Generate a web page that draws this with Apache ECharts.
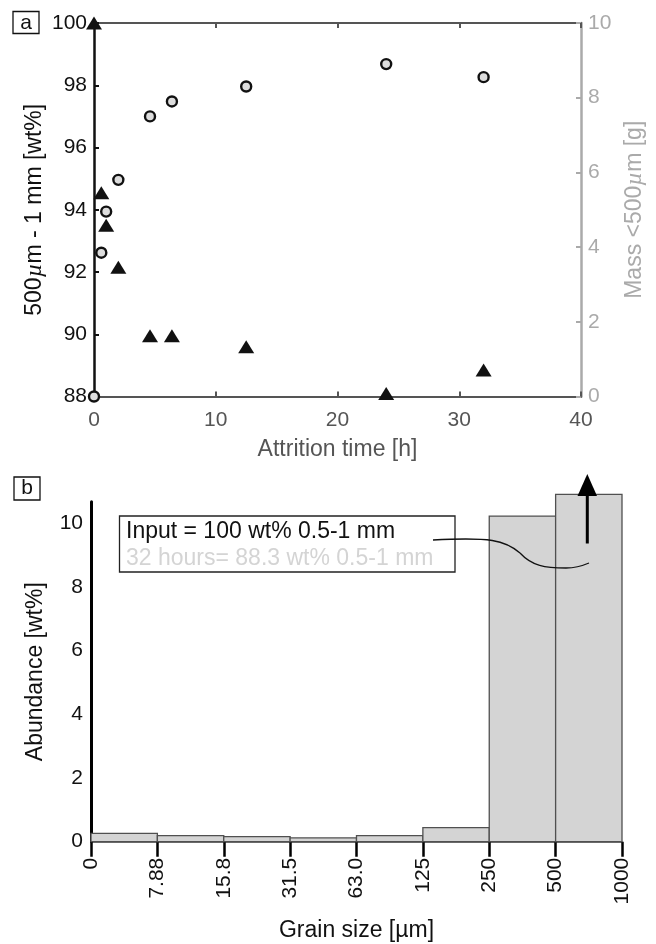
<!DOCTYPE html>
<html>
<head>
<meta charset="utf-8">
<script src="https://cdn.jsdelivr.net/npm/echarts@6/dist/echarts.min.js"></script>
<style>
  html, body { margin: 0; padding: 0; background: #fff; }
  #chart { width: 656px; height: 944px; }
</style>
</head>
<body>
<div id="chart"></div>
<script>
// panel a: attrition experiment
const hours = [0, 0.6, 1, 2, 4.6, 6.4, 12.5, 24, 32];
const coarseWt = [100, 94.55, 93.5, 92.15, 89.95, 89.95, 89.6, 88.1, 88.85]; // 500um - 1 mm [wt%]
const fineMass = [0, 3.85, 4.95, 5.8, 7.5, 7.9, 8.3, 8.9, 8.55];            // mass <500um [g]

// panel b: grain size distribution after 32 h
const binEdges = ['0', '7.88', '15.8', '31.5', '63.0', '125', '250', '500', '1000'];
const abundance = [0.26, 0.19, 0.16, 0.12, 0.19, 0.44, 10.22, 10.9];
const legendLines = ['Input = 100 wt% 0.5-1 mm', '32 hours= 88.3 wt% 0.5-1 mm'];

const FONT = 'Liberation Sans';
const chart = echarts.init(document.getElementById('chart'), null, { renderer: 'canvas' });

const muRich = { mu: { fontFamily: 'Liberation Serif', fontStyle: 'italic', fontSize: 24 } };

// connector curve from legend to the 500-1000 bar, as cubic pieces
const curveParts = [
  [433, 540, 490, 537, 505, 540, 520, 553],
  [520, 553, 532, 566, 545, 568, 566, 568],
  [566, 568, 575, 568, 582, 566, 589, 563]
];

const option = {
  animation: false,
  textStyle: { fontFamily: FONT },
  grid: [
    { left: 94, top: 23, width: 487, height: 373.5 },
    { left: 91, top: 501.7, width: 531, height: 340 }
  ],
  xAxis: [
    {
      gridIndex: 0, type: 'value', min: 0, max: 40, interval: 10,
      name: 'Attrition time [h]', nameLocation: 'middle', nameGap: 42,
      nameTextStyle: { fontSize: 23, color: '#555' },
      axisLine: { onZero: false, lineStyle: { color: '#555', width: 2 } },
      axisTick: { inside: true, length: 5, lineStyle: { color: '#555', width: 2 } },
      axisLabel: { fontSize: 21, color: '#555', margin: 13 },
      splitLine: { show: false }
    },
    {
      gridIndex: 0, type: 'value', position: 'top', min: 0, max: 40, interval: 10,
      axisLine: { onZero: false, lineStyle: { color: '#555', width: 2 } },
      axisTick: { inside: true, length: 5, lineStyle: { color: '#555', width: 2 } },
      axisLabel: { show: false },
      splitLine: { show: false }
    },
    {
      gridIndex: 1, type: 'value', min: 0, max: 8, interval: 1,
      name: 'Grain size [µm]', nameLocation: 'middle', nameGap: 77,
      nameTextStyle: { fontSize: 23, color: '#111' },
      axisLine: { onZero: false, lineStyle: { color: '#444', width: 1.5 } },
      axisTick: { length: 15, lineStyle: { color: '#000', width: 2.5 } },
      axisLabel: {
        fontSize: 21, color: '#111', rotate: 90, margin: 16,
        formatter: v => binEdges[v]
      },
      splitLine: { show: false }
    }
  ],
  yAxis: [
    {
      gridIndex: 0, type: 'value', position: 'left', min: 88, max: 100, interval: 2,
      name: '500{mu|µ}m - 1 mm [wt%]', nameLocation: 'middle', nameGap: 47, nameRotate: 90,
      nameMoveOverlap: false,
      nameTextStyle: { fontSize: 23, color: '#111', rich: muRich },
      axisLine: { onZero: false, lineStyle: { color: '#111', width: 2.5 } },
      axisTick: { inside: true, length: 5, lineStyle: { color: '#111', width: 2 } },
      axisLabel: { fontSize: 21, color: '#111', margin: 7 },
      splitLine: { show: false }
    },
    {
      gridIndex: 0, type: 'value', position: 'right', min: 0, max: 10, interval: 2,
      name: 'Mass <500{mu|µ}m [g]', nameLocation: 'middle', nameGap: 38, nameRotate: 90,
      nameTextStyle: { fontSize: 23, color: '#aaa', rich: { mu: Object.assign({ color: '#aaa' }, muRich.mu) } },
      axisLine: { onZero: false, lineStyle: { color: '#aaa', width: 2.5 } },
      axisTick: { inside: true, length: 5, lineStyle: { color: '#aaa', width: 2 } },
      axisLabel: { fontSize: 21, color: '#aaa', margin: 7 },
      splitLine: { show: false }
    },
    {
      gridIndex: 1, type: 'value', position: 'left', min: 0, max: 10.67, interval: 2,
      name: 'Abundance [wt%]', nameLocation: 'middle', nameGap: 44, nameRotate: 90,
      nameTextStyle: { fontSize: 23, color: '#111' },
      axisLine: { onZero: false, lineStyle: { color: '#000', width: 3 } },
      axisTick: { show: false },
      axisLabel: { fontSize: 21, color: '#111', margin: 8, showMaxLabel: false },
      splitLine: { show: false }
    }
  ],
  series: [
    {
      type: 'scatter', xAxisIndex: 0, yAxisIndex: 1, clip: false,
      symbol: 'circle', symbolSize: 10,
      itemStyle: { color: '#ddd', borderColor: '#111', borderWidth: 2.4, opacity: 1 },
      data: hours.map((h, i) => [h, fineMass[i]])
    },
    {
      type: 'scatter', xAxisIndex: 0, yAxisIndex: 0, clip: false,
      symbol: 'triangle', symbolSize: [16, 13],
      itemStyle: { color: '#111', opacity: 1 },
      data: hours.map((h, i) => [h, coarseWt[i]])
    },
    {
      type: 'custom', xAxisIndex: 2, yAxisIndex: 2, clip: false,
      renderItem: (params, api) => {
        const p0 = api.coord([api.value(0), api.value(2)]);
        const p1 = api.coord([api.value(1), 0]);
        return {
          type: 'rect',
          shape: { x: p0[0], y: p0[1], width: p1[0] - p0[0], height: p1[1] - p0[1] },
          style: { fill: '#d4d4d4', stroke: '#505050', lineWidth: 1.3 }
        };
      },
      data: abundance.map((v, i) => [i, i + 1, v])
    }
  ],
  graphic: [
    // panel letters
    { type: 'rect', shape: { x: 13, y: 11.5, width: 26, height: 22 }, style: { fill: '#fff', stroke: '#111', lineWidth: 1.3 } },
    { type: 'text', x: 26, y: 23, style: { text: 'a', fontSize: 21, fontFamily: FONT, fill: '#111', align: 'center', verticalAlign: 'middle' } },
    { type: 'rect', shape: { x: 14, y: 477, width: 26, height: 23 }, style: { fill: '#fff', stroke: '#111', lineWidth: 1.3 } },
    { type: 'text', x: 27, y: 488, style: { text: 'b', fontSize: 21, fontFamily: FONT, fill: '#111', align: 'center', verticalAlign: 'middle' } },
    // legend box
    { type: 'rect', z: 100, shape: { x: 119.5, y: 516, width: 335.5, height: 56 }, style: { fill: '#fff', stroke: '#222', lineWidth: 1.3 } },
    { type: 'text', z: 101, x: 126, y: 532, style: { text: legendLines[0], fontSize: 23, fontFamily: FONT, fill: '#111', verticalAlign: 'middle' } },
    { type: 'text', z: 101, x: 126, y: 559, style: { text: legendLines[1], fontSize: 23, fontFamily: FONT, fill: '#d4d4d4', verticalAlign: 'middle' } },
    // connector curve and off-scale arrow
    ...curveParts.map(c => ({
      type: 'bezierCurve', z: 101,
      shape: { x1: c[0], y1: c[1], cpx1: c[2], cpy1: c[3], cpx2: c[4], cpy2: c[5], x2: c[6], y2: c[7] },
      style: { fill: null, stroke: '#111', lineWidth: 1.3 }
    })),
    { type: 'line', z: 101, shape: { x1: 587.3, y1: 543.5, x2: 587.3, y2: 494 }, style: { stroke: '#000', lineWidth: 3 } },
    { type: 'polygon', z: 101, shape: { points: [[577.5, 496], [597, 496], [587.3, 474]] }, style: { fill: '#000' } }
  ]
};

chart.setOption(option);
</script>
</body>
</html>
